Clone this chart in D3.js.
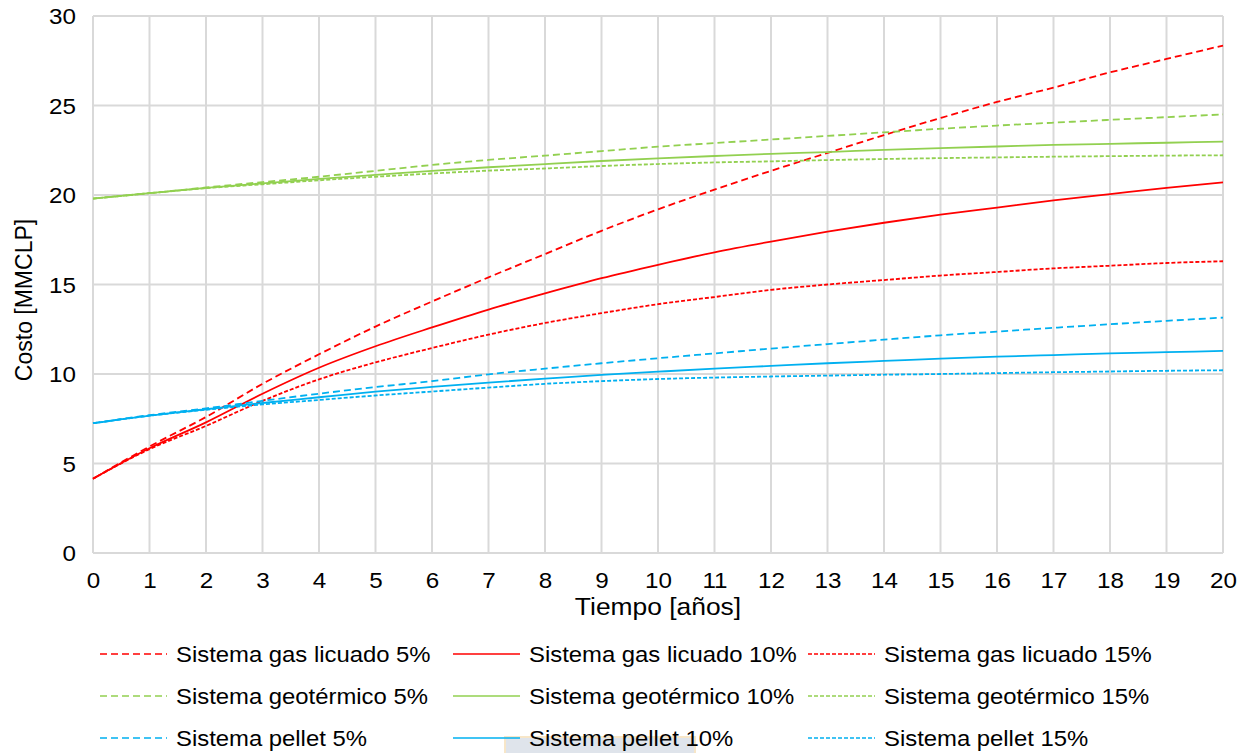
<!DOCTYPE html>
<html>
<head>
<meta charset="utf-8">
<script src="https://cdn.jsdelivr.net/npm/d3@7"></script>
<style>
  body { margin: 0; background: #fff; }
  svg { display: block; }
  text { font-family: Arial, "Liberation Sans", sans-serif; fill: #000; }
</style>
</head>
<body>
<svg id="chart" width="1248" height="753"></svg>
<script>
// Years of the evaluation horizon
const years = [0, 1, 2, 3, 4, 5, 6, 7, 8, 9, 10, 11, 12, 13, 14, 15, 16, 17, 18, 19, 20];

// Accumulated cost [MMCLP] per system and discount rate
const gasLicuado5  = [4.15, 5.95, 7.6, 9.45, 11.1, 12.65, 14.05, 15.4, 16.7, 18.0, 19.2, 20.3, 21.35, 22.35, 23.35, 24.3, 25.2, 26.0, 26.85, 27.6, 28.35];
const gasLicuado10 = [4.15, 5.85, 7.3, 8.9, 10.35, 11.55, 12.6, 13.6, 14.5, 15.35, 16.1, 16.8, 17.4, 17.95, 18.45, 18.9, 19.3, 19.7, 20.05, 20.4, 20.7];
const gasLicuado15 = [4.15, 5.8, 7.1, 8.5, 9.7, 10.65, 11.45, 12.2, 12.85, 13.4, 13.9, 14.3, 14.7, 15.0, 15.25, 15.5, 15.7, 15.9, 16.05, 16.2, 16.3];

const geotermico5  = [19.8, 20.1, 20.42, 20.72, 21.02, 21.35, 21.68, 21.96, 22.2, 22.45, 22.7, 22.9, 23.1, 23.3, 23.5, 23.7, 23.88, 24.04, 24.2, 24.35, 24.5];
const geotermico10 = [19.8, 20.1, 20.4, 20.65, 20.9, 21.12, 21.35, 21.55, 21.73, 21.9, 22.05, 22.18, 22.3, 22.4, 22.52, 22.62, 22.71, 22.8, 22.86, 22.92, 22.98];
const geotermico15 = [19.8, 20.1, 20.38, 20.6, 20.82, 21.02, 21.2, 21.36, 21.48, 21.62, 21.73, 21.82, 21.88, 21.95, 22.01, 22.06, 22.1, 22.14, 22.17, 22.2, 22.22];

const pellet5  = [7.25, 7.7, 8.08, 8.5, 8.9, 9.27, 9.6, 9.98, 10.3, 10.6, 10.88, 11.15, 11.42, 11.67, 11.92, 12.16, 12.37, 12.58, 12.78, 12.97, 13.15];
const pellet10 = [7.25, 7.68, 8.03, 8.38, 8.7, 9.02, 9.28, 9.52, 9.74, 9.95, 10.13, 10.3, 10.45, 10.6, 10.73, 10.86, 10.97, 11.06, 11.15, 11.22, 11.29];
const pellet15 = [7.25, 7.67, 8.0, 8.3, 8.55, 8.8, 9.02, 9.24, 9.45, 9.6, 9.72, 9.8, 9.86, 9.91, 9.96, 10.0, 10.05, 10.1, 10.14, 10.18, 10.21];

const seriesNames = [
  "Sistema gas licuado 5%", "Sistema gas licuado 10%", "Sistema gas licuado 15%",
  "Sistema geotérmico 5%", "Sistema geotérmico 10%", "Sistema geotérmico 15%",
  "Sistema pellet 5%", "Sistema pellet 10%", "Sistema pellet 15%"
];
const seriesValues = [
  gasLicuado5, gasLicuado10, gasLicuado15,
  geotermico5, geotermico10, geotermico15,
  pellet5, pellet10, pellet15
];

const yTicks = [0, 5, 10, 15, 20, 25, 30];
const xTicks = years;
const xTitle = "Tiempo [años]";
const yTitle = "Costo [MMCLP]";

// Styling: one colour per system, one dash pattern per rate
const systemColors = ["#FF0000", "#92D050", "#00B0F0"];
const rateDashes = ["7,4", null, "4,2"];

const series = seriesNames.map((name, i) => ({
  name,
  values: seriesValues[i],
  color: systemColors[Math.floor(i / 3)],
  dash: rateDashes[i % 3],
  row: Math.floor(i / 3),
  col: i % 3
}));

const svg = d3.select("#chart");
const plot = { left: 93, right: 1223, top: 16, bottom: 553 };
const FONT = "Arial, 'Liberation Sans', sans-serif";
const WIDEN = 1.1; // text is set slightly wide

const x = d3.scaleLinear().domain([0, 20]).range([plot.left, plot.right]);
const y = d3.scaleLinear().domain([0, 30]).range([plot.bottom, plot.top]);

// Faint badge sitting behind the lower legend row
svg.append("rect")
  .attr("x", 505).attr("y", 737).attr("width", 190).attr("height", 20)
  .attr("fill", "#dfe4eb").attr("stroke", "#f7e6c8").attr("stroke-width", 2);

// Gridlines
const grid = svg.append("g").attr("class", "grid");
grid.selectAll("line.v").data(xTicks).join("line")
  .attr("class", "v")
  .attr("x1", d => x(d)).attr("x2", d => x(d))
  .attr("y1", plot.top).attr("y2", plot.bottom)
  .attr("stroke", "#d9d9d9").attr("stroke-width", 2);
grid.selectAll("line.h").data(yTicks).join("line")
  .attr("class", "h")
  .attr("x1", plot.left).attr("x2", plot.right)
  .attr("y1", d => y(d)).attr("y2", d => y(d))
  .attr("stroke", "#d9d9d9").attr("stroke-width", 2);

// Axes (labels only; the gridlines act as axis lines)
const xAxis = d3.axisBottom(x).tickValues(xTicks).tickSize(0).tickPadding(0).tickFormat(d3.format("d"));
const gx = svg.append("g").attr("transform", `translate(0,${plot.bottom})`).call(xAxis);
gx.select(".domain").remove();
gx.selectAll("text")
  .attr("font-size", 22).attr("dy", null).attr("x", 0).attr("y", 0)
  .attr("transform", `translate(0,35) scale(${WIDEN},1)`)
  .attr("font-family", FONT).attr("fill", "#000");

const yAxis = d3.axisLeft(y).tickValues(yTicks).tickSize(0).tickPadding(0).tickFormat(d3.format("d"));
const gy = svg.append("g").attr("transform", `translate(${plot.left},0)`).call(yAxis);
gy.select(".domain").remove();
gy.selectAll("text")
  .attr("font-size", 22).attr("x", 0).attr("dy", "0.35em")
  .attr("transform", `translate(-17,0) scale(${WIDEN},1)`)
  .attr("font-family", FONT).attr("fill", "#000");

// Axis titles
svg.append("text")
  .attr("transform", `translate(${(plot.left + plot.right) / 2},615) scale(${WIDEN},1)`)
  .attr("text-anchor", "middle").attr("font-size", 24)
  .text(xTitle);
svg.append("text")
  .attr("transform", "translate(32,300) rotate(-90)")
  .attr("text-anchor", "middle").attr("font-size", 23)
  .text(yTitle);

// Cost curves
const line = d3.line()
  .x((d, i) => x(years[i]))
  .y(d => y(d))
  .curve(d3.curveMonotoneX);

svg.append("g").attr("class", "series")
  .selectAll("path").data(series).join("path")
  .attr("d", d => line(d.values))
  .attr("fill", "none")
  .attr("stroke", d => d.color)
  .attr("stroke-width", 1.8)
  .attr("stroke-dasharray", d => d.dash);

// Legend: rows per system, columns per rate
const legendCols = [100, 453, 808];
const legendRows = [654, 696, 738];
const sampleLen = 67;

const legend = svg.append("g").attr("class", "legend")
  .selectAll("g").data(series).join("g")
  .attr("transform", d => `translate(${legendCols[d.col]},${legendRows[d.row]})`);
legend.append("line")
  .attr("x1", 0).attr("x2", sampleLen).attr("y1", 0).attr("y2", 0)
  .attr("stroke", d => d.color).attr("stroke-width", 1.6)
  .attr("stroke-dasharray", d => d.dash);
legend.append("text")
  .attr("transform", `translate(${sampleLen + 9},8) scale(1.085,1)`)
  .attr("font-size", 22)
  .text(d => d.name);
</script>
</body>
</html>
